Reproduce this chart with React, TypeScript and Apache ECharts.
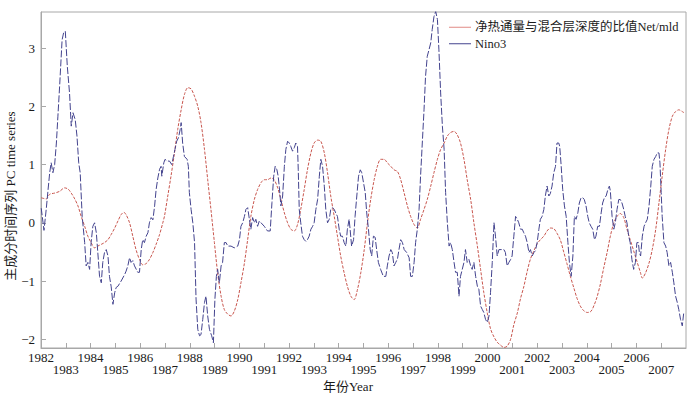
import React, { useEffect, useRef } from "react";
import * as echarts from "echarts";

const FONT = '"Liberation Serif", "Times New Roman", "Noto Sans CJK SC", serif';

const seriesNames = ["净热通量与混合层深度的比值Net/mld", "Nino3"];
const yTickValues = [-2, -1, 0, 1, 2, 3];
const xAxisName = "年份Year";
const yAxisName = "主成分时间序列 PC time series";

// [decimal year, value]
const netMld: [number, number][] = [
  [1982.01, 0.43], [1982.21, 0.41], [1982.35, 0.49], [1982.55, 0.51], [1982.75, 0.54], [1982.95, 0.6],
  [1983.09, 0.58], [1983.22, 0.51], [1983.36, 0.41], [1983.49, 0.29], [1983.62, 0.11], [1983.76, -0.06],
  [1983.89, -0.23], [1984.02, -0.34], [1984.16, -0.43], [1984.29, -0.4], [1984.43, -0.37], [1984.56, -0.34],
  [1984.7, -0.29], [1984.83, -0.2], [1984.97, -0.09], [1985.1, 0.03], [1985.23, 0.14], [1985.34, 0.18],
  [1985.43, 0.14], [1985.57, 0.0], [1985.7, -0.23], [1985.83, -0.46], [1985.97, -0.63], [1986.1, -0.72],
  [1986.24, -0.7], [1986.37, -0.63], [1986.51, -0.51], [1986.64, -0.37], [1986.78, -0.2], [1986.91, 0.0],
  [1986.98, 0.12], [1987.11, 0.46], [1987.24, 0.8], [1987.38, 1.2], [1987.51, 1.6], [1987.65, 1.94],
  [1987.78, 2.2], [1987.92, 2.32], [1988.05, 2.3], [1988.19, 2.17], [1988.32, 2.0], [1988.45, 1.72],
  [1988.59, 1.26], [1988.72, 0.74], [1988.85, 0.23], [1988.99, -0.34], [1989.12, -0.86], [1989.26, -1.26],
  [1989.39, -1.49], [1989.53, -1.57], [1989.66, -1.6], [1989.79, -1.52], [1989.93, -1.32], [1990.06, -1.03],
  [1990.2, -0.69], [1990.33, -0.29], [1990.46, 0.11], [1990.6, 0.4], [1990.73, 0.57], [1990.87, 0.69],
  [1991.0, 0.74], [1991.13, 0.74], [1991.27, 0.77], [1991.4, 0.74], [1991.54, 0.6], [1991.67, 0.4],
  [1991.81, 0.17], [1991.94, 0.0], [1992.07, -0.11], [1992.21, -0.14], [1992.34, -0.03], [1992.47, 0.23],
  [1992.61, 0.57], [1992.74, 0.91], [1992.88, 1.2], [1993.01, 1.37], [1993.15, 1.42], [1993.28, 1.4],
  [1993.42, 1.2], [1993.55, 0.86], [1993.68, 0.46], [1993.82, 0.11], [1993.95, -0.23], [1994.08, -0.57],
  [1994.22, -0.86], [1994.35, -1.09], [1994.49, -1.26], [1994.62, -1.32], [1994.76, -1.14], [1994.89, -0.86],
  [1995.03, -0.46], [1995.16, 0.0], [1995.29, 0.4], [1995.43, 0.74], [1995.56, 0.97], [1995.69, 1.09],
  [1995.83, 1.09], [1995.96, 1.03], [1996.1, 0.97], [1996.23, 0.91], [1996.37, 0.88], [1996.5, 0.74],
  [1996.64, 0.51], [1996.77, 0.29], [1996.9, 0.11], [1997.04, -0.03], [1997.17, -0.09], [1997.3, 0.06],
  [1997.44, 0.23], [1997.57, 0.4], [1997.71, 0.63], [1997.84, 0.86], [1997.98, 1.09], [1998.11, 1.26],
  [1998.25, 1.37], [1998.38, 1.49], [1998.51, 1.55], [1998.65, 1.57], [1998.78, 1.51], [1998.91, 1.37],
  [1999.05, 1.09], [1999.18, 0.74], [1999.32, 0.4], [1999.45, 0.0], [1999.59, -0.4], [1999.72, -0.8],
  [1999.85, -1.2], [1999.99, -1.55], [2000.12, -1.82], [2000.26, -1.96], [2000.39, -2.05], [2000.52, -2.1],
  [2000.66, -2.14], [2000.79, -2.12], [2000.93, -2.0], [2001.06, -1.75], [2001.2, -1.55], [2001.33, -1.3],
  [2001.46, -1.1], [2001.59, -0.85], [2001.73, -0.62], [2001.87, -0.48], [2002.0, -0.36], [2002.13, -0.29],
  [2002.27, -0.23], [2002.4, -0.14], [2002.53, -0.09], [2002.67, -0.1], [2002.8, -0.18], [2002.94, -0.3],
  [2003.07, -0.5], [2003.2, -0.7], [2003.34, -0.92], [2003.48, -1.12], [2003.61, -1.3], [2003.74, -1.43],
  [2003.88, -1.51], [2004.02, -1.54], [2004.17, -1.52], [2004.31, -1.4], [2004.41, -1.28], [2004.55, -1.05],
  [2004.68, -0.78], [2004.82, -0.51], [2004.95, -0.23], [2005.09, 0.0], [2005.22, 0.11], [2005.35, 0.16],
  [2005.49, 0.09], [2005.62, -0.11], [2005.75, -0.29], [2005.89, -0.48], [2006.02, -0.66], [2006.16, -0.85],
  [2006.24, -0.95], [2006.37, -0.86], [2006.51, -0.69], [2006.64, -0.46], [2006.78, -0.11], [2006.91, 0.34],
  [2007.04, 0.8], [2007.18, 1.26], [2007.31, 1.6], [2007.45, 1.83], [2007.58, 1.91], [2007.71, 1.94],
  [2007.85, 1.91], [2007.92, 1.89],
];

const nino3: [number, number][] = [
  [1982.01, 0.25], [1982.12, -0.13], [1982.21, 0.23], [1982.35, 0.86], [1982.41, 1.03], [1982.48, 0.86],
  [1982.55, 1.0], [1982.62, 1.37], [1982.68, 1.82], [1982.75, 2.34], [1982.85, 3.14], [1982.91, 3.26],
  [1982.98, 3.29], [1983.06, 2.69], [1983.15, 2.23], [1983.22, 1.66], [1983.29, 1.89], [1983.38, 1.77],
  [1983.45, 1.49], [1983.52, 1.03], [1983.58, 0.86], [1983.66, 0.11], [1983.76, -0.34], [1983.82, -0.74],
  [1983.89, -0.68], [1983.96, -0.8], [1984.02, -0.34], [1984.09, -0.06], [1984.16, 0.0], [1984.23, -0.17],
  [1984.29, -0.51], [1984.36, -0.92], [1984.43, -1.03], [1984.49, -0.68], [1984.56, -0.51], [1984.63, -0.46],
  [1984.7, -0.57], [1984.76, -0.92], [1984.83, -1.1], [1984.9, -1.4], [1984.97, -1.2], [1985.03, -1.11],
  [1985.1, -1.09], [1985.23, -1.0], [1985.37, -0.89], [1985.43, -0.83], [1985.5, -0.74], [1985.57, -0.6],
  [1985.63, -0.68], [1985.7, -0.65], [1985.77, -0.74], [1985.9, -0.85], [1985.97, -0.85], [1986.04, -0.46],
  [1986.1, -0.29], [1986.17, -0.34], [1986.24, -0.23], [1986.31, -0.17], [1986.37, 0.0], [1986.44, 0.09],
  [1986.51, 0.05], [1986.58, 0.29], [1986.64, 0.57], [1986.71, 0.77], [1986.78, 0.92], [1986.84, 0.97],
  [1986.87, 0.8], [1986.95, 1.03], [1987.0, 1.09], [1987.08, 1.06], [1987.18, 1.06], [1987.27, 1.0],
  [1987.34, 1.14], [1987.4, 1.26], [1987.47, 1.4], [1987.54, 1.46], [1987.61, 1.6], [1987.65, 1.72],
  [1987.71, 1.37], [1987.78, 1.14], [1987.89, 1.09], [1987.94, 0.97], [1987.98, 0.52], [1988.05, 0.23],
  [1988.12, 0.0], [1988.19, -0.34], [1988.25, -1.31], [1988.32, -1.83], [1988.39, -1.94], [1988.45, -1.92],
  [1988.52, -1.66], [1988.59, -1.37], [1988.65, -1.26], [1988.72, -1.6], [1988.79, -1.83], [1988.88, -1.94],
  [1988.95, -2.06], [1989.01, -1.31], [1989.07, -0.92], [1989.12, -0.8], [1989.19, -1.03], [1989.26, -0.74],
  [1989.32, -0.68], [1989.39, -0.34], [1989.46, -0.34], [1989.53, -0.4], [1989.66, -0.4], [1989.79, -0.43],
  [1989.93, -0.4], [1990.0, -0.29], [1990.06, -0.06], [1990.13, 0.0], [1990.2, 0.11], [1990.26, 0.23],
  [1990.33, 0.26], [1990.4, 0.06], [1990.46, -0.11], [1990.53, 0.09], [1990.6, 0.0], [1990.66, 0.06],
  [1990.73, -0.06], [1990.8, 0.03], [1990.87, 0.0], [1991.0, -0.06], [1991.13, -0.14], [1991.24, -0.14],
  [1991.31, 0.35], [1991.38, 0.8], [1991.44, 0.97], [1991.51, 0.91], [1991.56, 0.8], [1991.61, 0.6],
  [1991.67, 0.29], [1991.74, 0.46], [1991.81, 0.97], [1991.87, 1.26], [1991.94, 1.4], [1992.01, 1.37],
  [1992.07, 1.31], [1992.14, 1.23], [1992.21, 1.29], [1992.27, 1.37], [1992.34, 1.31], [1992.37, 0.91],
  [1992.41, 0.23], [1992.47, 0.0], [1992.54, -0.23], [1992.61, -0.29], [1992.68, -0.32], [1992.74, -0.29],
  [1992.81, -0.23], [1992.88, -0.11], [1992.95, -0.06], [1993.01, 0.0], [1993.08, 0.23], [1993.15, 0.4],
  [1993.22, 0.8], [1993.28, 1.09], [1993.35, 0.97], [1993.42, 0.63], [1993.48, 0.23], [1993.55, 0.0],
  [1993.62, 0.06], [1993.68, 0.23], [1993.75, 0.26], [1993.82, 0.23], [1993.88, 0.17], [1993.95, 0.11],
  [1994.02, -0.11], [1994.08, -0.23], [1994.15, -0.23], [1994.22, -0.34], [1994.29, -0.4], [1994.35, -0.11],
  [1994.42, 0.06], [1994.46, -0.11], [1994.52, -0.4], [1994.6, -0.29], [1994.66, 0.11], [1994.73, 0.46],
  [1994.8, 0.8], [1994.87, 0.91], [1994.93, 0.86], [1995.0, 0.69], [1995.07, 0.52], [1995.13, 0.17],
  [1995.2, -0.11], [1995.27, -0.46], [1995.33, -0.57], [1995.4, -0.23], [1995.47, -0.25], [1995.53, -0.46],
  [1995.6, -0.68], [1995.69, -0.8], [1995.8, -0.92], [1995.9, -0.92], [1995.96, -0.74], [1996.03, -0.57],
  [1996.1, -0.46], [1996.16, -0.51], [1996.23, -0.74], [1996.3, -0.68], [1996.37, -0.62], [1996.43, -0.46],
  [1996.5, -0.29], [1996.57, -0.34], [1996.64, -0.46], [1996.74, -0.51], [1996.84, -0.6], [1996.9, -0.92],
  [1996.97, -0.92], [1997.04, -0.68], [1997.1, -0.34], [1997.17, -0.11], [1997.24, 0.23], [1997.3, 0.8],
  [1997.37, 1.37], [1997.44, 1.94], [1997.5, 2.51], [1997.57, 2.86], [1997.64, 2.97], [1997.71, 3.09],
  [1997.77, 3.32], [1997.84, 3.54], [1997.91, 3.63], [1997.98, 3.49], [1998.04, 2.97], [1998.11, 2.23],
  [1998.18, 1.66], [1998.25, 1.26], [1998.31, 0.52], [1998.38, 0.0], [1998.45, -0.4], [1998.51, -0.34],
  [1998.58, -0.46], [1998.65, -0.68], [1998.71, -0.85], [1998.78, -0.85], [1998.85, -1.26], [1998.91, -0.92],
  [1998.98, -0.8], [1999.05, -0.68], [1999.11, -0.46], [1999.18, -0.68], [1999.25, -0.63], [1999.32, -0.74],
  [1999.38, -0.8], [1999.45, -0.68], [1999.52, -0.92], [1999.59, -1.09], [1999.65, -1.14], [1999.72, -1.43],
  [1999.79, -1.49], [1999.85, -1.54], [1999.92, -1.66], [1999.99, -1.71], [2000.06, -1.6], [2000.12, -1.2],
  [2000.19, -0.68], [2000.26, 0.0], [2000.32, -0.23], [2000.39, -0.57], [2000.46, -0.46], [2000.59, -0.46],
  [2000.66, -0.46], [2000.72, -0.51], [2000.79, -0.74], [2000.86, -0.68], [2000.93, -0.63], [2000.99, -0.57],
  [2001.06, -0.23], [2001.13, 0.11], [2001.2, 0.06], [2001.26, 0.0], [2001.33, -0.11], [2001.4, -0.11],
  [2001.46, -0.17], [2001.53, -0.23], [2001.6, -0.34], [2001.67, -0.51], [2001.73, -0.46], [2001.8, -0.57],
  [2001.87, -0.51], [2001.93, -0.48], [2002.0, -0.34], [2002.07, -0.11], [2002.13, 0.06], [2002.2, 0.11],
  [2002.27, 0.23], [2002.33, 0.46], [2002.4, 0.63], [2002.47, 0.46], [2002.53, 0.5], [2002.6, 0.63],
  [2002.67, 0.86], [2002.74, 0.97], [2002.8, 1.37], [2002.87, 1.37], [2002.91, 1.31], [2002.97, 0.97],
  [2003.03, 0.57], [2003.1, 0.29], [2003.17, 0.11], [2003.24, -0.34], [2003.3, -0.68], [2003.37, -0.92],
  [2003.44, -0.57], [2003.5, 0.11], [2003.57, 0.06], [2003.64, 0.17], [2003.7, 0.34], [2003.77, 0.43],
  [2003.84, 0.43], [2003.9, 0.4], [2003.97, 0.29], [2004.04, 0.11], [2004.1, 0.0], [2004.17, -0.06],
  [2004.24, -0.11], [2004.31, -0.29], [2004.37, -0.23], [2004.44, -0.06], [2004.51, -0.06], [2004.58, 0.17],
  [2004.64, 0.34], [2004.71, 0.43], [2004.78, 0.46], [2004.85, 0.57], [2004.91, 0.63], [2004.95, 0.55],
  [2005.02, 0.11], [2005.09, -0.11], [2005.15, 0.0], [2005.22, 0.23], [2005.29, 0.4], [2005.35, 0.4],
  [2005.42, 0.34], [2005.49, 0.23], [2005.55, 0.11], [2005.62, 0.0], [2005.69, -0.23], [2005.75, -0.34],
  [2005.82, -0.63], [2005.89, -0.8], [2005.96, -0.68], [2006.02, -0.34], [2006.08, -0.34], [2006.12, -0.51],
  [2006.17, -0.57], [2006.24, -0.23], [2006.31, -0.06], [2006.37, 0.0], [2006.44, 0.06], [2006.51, 0.29],
  [2006.58, 0.63], [2006.64, 0.97], [2006.71, 1.09], [2006.78, 1.14], [2006.84, 1.2], [2006.91, 1.2],
  [2006.95, 1.03], [2007.0, 0.52], [2007.04, 0.11], [2007.11, -0.34], [2007.18, -0.4], [2007.24, -0.51],
  [2007.31, -0.74], [2007.38, -0.68], [2007.45, -0.85], [2007.51, -1.03], [2007.58, -1.26], [2007.65, -1.37],
  [2007.71, -1.49], [2007.78, -1.66], [2007.85, -1.77], [2007.91, -1.54],
];

const RED = "#c8564e";
const BLUE = "#43438e";

export default function App() {
  const ref = useRef<HTMLDivElement>(null);

  useEffect(() => {
    document.body.style.margin = "0";
    if (!ref.current) return;
    const chart = echarts.init(ref.current, undefined, { renderer: "svg" });
    const axisGray = "#a8a8a8";
    const textColor = "#1a1a1a";
    const labelBase = {
      fontSize: 13,
      lineHeight: 12,
      fontFamily: FONT,
      color: textColor,
      hideOverlap: false,
    };
    chart.setOption({
      animation: false,
      backgroundColor: "#ffffff",
      grid: {
        left: 41,
        right: 14,
        top: 12,
        bottom: 47,
        show: true,
        borderColor: axisGray,
        borderWidth: 1,
      },
      legend: {
        orient: "vertical",
        left: 444,
        top: 16,
        icon: "rect",
        itemWidth: 22,
        itemHeight: 1,
        itemGap: 4,
        data: [
          { name: seriesNames[0], itemStyle: { color: "#e08a84" } },
          { name: seriesNames[1], itemStyle: { color: BLUE } },
        ],
        textStyle: { fontSize: 12.5, fontFamily: FONT, color: textColor, padding: [0, 0, 0, -1] },
      },
      xAxis: [
        {
          type: "value",
          min: 1982,
          max: 2008,
          interval: 1,
          axisLine: { show: true, onZero: false, lineStyle: { color: axisGray, width: 1 } },
          axisTick: { show: true, inside: true, length: 5, lineStyle: { color: axisGray } },
          splitLine: { show: false },
          axisLabel: {
            ...labelBase,
            showMinLabel: true,
            showMaxLabel: false,
            margin: 3,
            formatter: (v: number) => (v < 2008 && v % 2 === 0 ? String(v) : ""),
          },
        },
        {
          type: "value",
          position: "bottom",
          min: 1982,
          max: 2008,
          interval: 1,
          axisLine: { show: false, onZero: false },
          axisTick: { show: false },
          splitLine: { show: false },
          axisLabel: {
            ...labelBase,
            showMinLabel: false,
            showMaxLabel: false,
            margin: 15,
            formatter: (v: number) => (v < 2008 && v % 2 === 1 ? String(v) : ""),
          },
        },
      ],
      yAxis: {
        type: "value",
        min: -2.15,
        max: 3.62,
        axisLine: { show: true, onZero: false, lineStyle: { color: axisGray, width: 1 } },
        axisTick: {
          show: true,
          inside: true,
          length: 5,
          customValues: yTickValues,
          lineStyle: { color: axisGray },
        },
        splitLine: { show: false },
        axisLabel: {
          customValues: yTickValues,
          margin: 6,
          fontSize: 13,
          fontFamily: FONT,
          color: textColor,
          formatter: (v: number) => (v < 0 ? "\u2212" + Math.abs(v) : String(v)),
        },
      },
      graphic: [
        {
          type: "text",
          x: 10,
          y: 196,
          rotation: Math.PI / 2,
          style: {
            text: yAxisName,
            fontSize: 13,
            fontFamily: FONT,
            fill: textColor,
            align: "center",
            verticalAlign: "middle",
          },
        },
        {
          type: "text",
          x: 348,
          y: 386,
          style: {
            text: xAxisName,
            fontSize: 13,
            fontFamily: FONT,
            fill: textColor,
            align: "center",
            verticalAlign: "middle",
          },
        },
      ],
      series: [
        {
          name: seriesNames[0],
          type: "line",
          xAxisIndex: 0,
          data: netMld,
          symbol: "none",
          smooth: 0.3,
          lineStyle: { color: RED, width: 1, type: [3, 1.5] },
          itemStyle: { color: RED },
          z: 2,
        },
        {
          name: seriesNames[1],
          type: "line",
          xAxisIndex: 0,
          data: nino3,
          symbol: "none",
          lineStyle: { color: BLUE, width: 1, type: [7, 2] },
          itemStyle: { color: BLUE },
          z: 3,
        },
      ],
    });
    return () => chart.dispose();
  }, []);

  return <div ref={ref} style={{ width: 700, height: 395 }} />;
}
